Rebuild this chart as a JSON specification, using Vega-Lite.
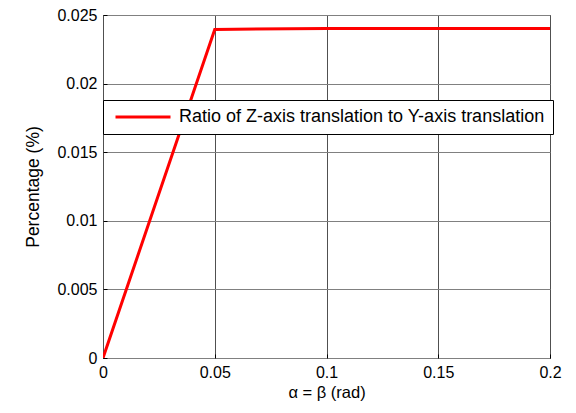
{
  "$schema": "https://vega.github.io/schema/vega-lite/v6.json",
  "width": 447,
  "height": 343,
  "autosize": {"type": "none"},
  "padding": {"left": 103, "top": 15, "right": 26, "bottom": 55},
  "background": "white",
  "config": {
    "view": {"stroke": "black", "strokeWidth": 1},
    "font": "Liberation Sans"
  },
  "data": {
    "values": [
      {"x": 0, "y": 0, "series": "Ratio of Z-axis translation to Y-axis translation"},
      {"x": 0.05, "y": 0.02395, "series": "Ratio of Z-axis translation to Y-axis translation"},
      {"x": 0.1, "y": 0.02401, "series": "Ratio of Z-axis translation to Y-axis translation"},
      {"x": 0.15, "y": 0.02402, "series": "Ratio of Z-axis translation to Y-axis translation"},
      {"x": 0.2, "y": 0.02402, "series": "Ratio of Z-axis translation to Y-axis translation"}
    ]
  },
  "mark": {"type": "line", "strokeWidth": 3, "clip": true},
  "encoding": {
    "x": {
      "field": "x", "type": "quantitative",
      "scale": {"domain": [0, 0.2], "nice": false, "zero": false},
      "axis": {
        "title": "α = β (rad)", "values": [0, 0.05, 0.1, 0.15, 0.2],
        "format": "~g", "labelFontSize": 16, "titleFontSize": 16.5, "titleFontWeight": "normal",
        "labelColor": "black", "titleColor": "black", "domain": false,
        "tickSize": -4, "tickColor": "black", "labelPadding": 10, "titlePadding": 4,
        "grid": true, "gridColor": "#505050", "gridOpacity": 1, "labelFlush": false
      }
    },
    "y": {
      "field": "y", "type": "quantitative",
      "scale": {"domain": [0, 0.025], "nice": false, "zero": false},
      "axis": {
        "title": "Percentage (%)", "values": [0, 0.005, 0.01, 0.015, 0.02, 0.025],
        "format": "~g", "labelFontSize": 16, "titleFontSize": 17.5, "titleFontWeight": "normal",
        "labelColor": "black", "titleColor": "black", "domain": false,
        "tickSize": -4, "tickColor": "black", "labelPadding": 10, "titlePadding": 14,
        "grid": true, "gridColor": "#808080", "gridOpacity": 1, "labelFlush": false
      }
    },
    "color": {
      "field": "series", "type": "nominal",
      "scale": {"range": ["#ff0000"]},
      "legend": {
        "title": null, "orient": "none", "legendX": 0, "legendY": 85,
        "fillColor": "white", "strokeColor": "black", "padding": 8,
        "symbolType": "M-5,0H5", "symbolSize": 121, "symbolStrokeWidth": 3,
        "symbolOffset": 23, "labelOffset": 27,
        "labelFontSize": 18, "labelColor": "black", "labelLimit": 500
      }
    }
  }
}
